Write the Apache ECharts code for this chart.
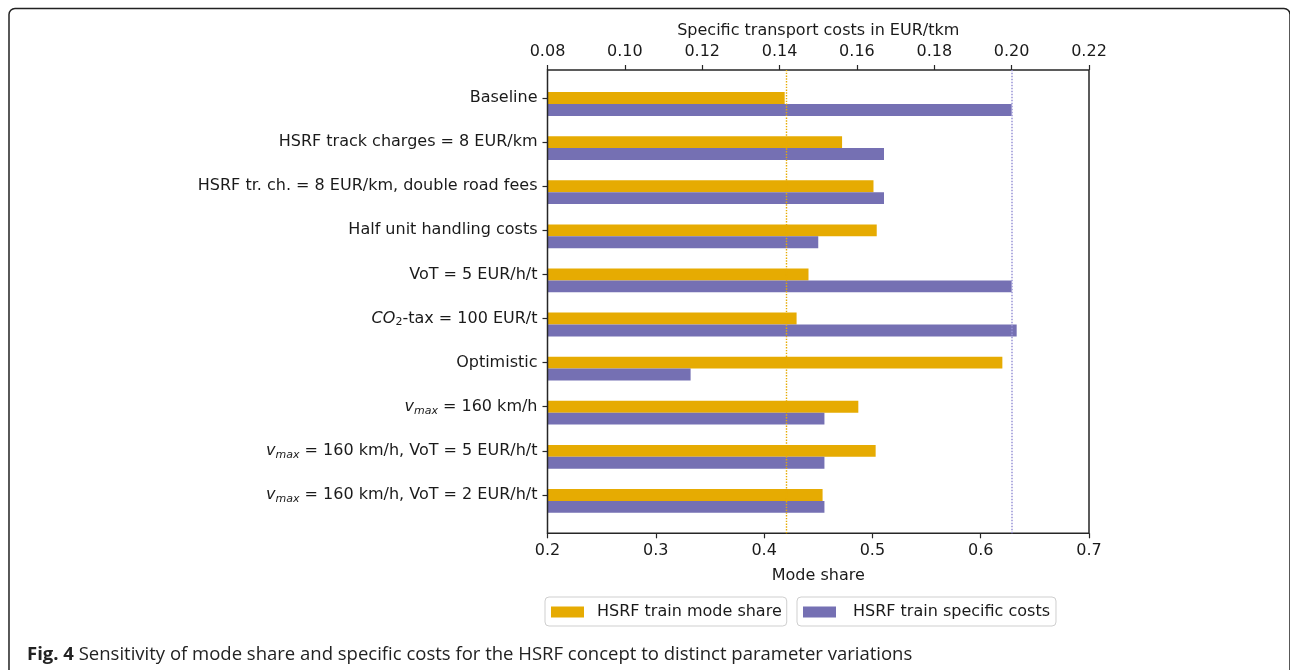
<!DOCTYPE html>
<html><head><meta charset="utf-8">
<script src="https://cdn.jsdelivr.net/npm/echarts@6/dist/echarts.min.js"></script>
<style>html,body{margin:0;padding:0;background:#fff}#c{width:1290px;height:670px}</style>
</head><body><div id="c"></div>
<script>
// ---- data ----
const categories = [
  'Baseline',
  'HSRF track charges = 8 EUR/km',
  'HSRF tr. ch. = 8 EUR/km, double road fees',
  'Half unit handling costs',
  'VoT = 5 EUR/h/t',
  'CO2-tax = 100 EUR/t',
  'Optimistic',
  'vmax = 160 km/h',
  'vmax = 160 km/h, VoT = 5 EUR/h/t',
  'vmax = 160 km/h, VoT = 2 EUR/h/t'
];
const modeShare = [0.419, 0.472, 0.501, 0.504, 0.441, 0.430, 0.620, 0.487, 0.503, 0.454];
const specificCosts = [0.200, 0.167, 0.167, 0.150, 0.200, 0.2013, 0.117, 0.1516, 0.1516, 0.1516];
const modeShareAxis = { min: 0.2, max: 0.7, interval: 0.1 };
const costAxis = { min: 0.08, max: 0.22, interval: 0.02 };
const seriesNames = ['HSRF train mode share', 'HSRF train specific costs'];
const axisTitles = { bottom: 'Mode share', top: 'Specific transport costs in EUR/tkm' };
const caption = { bold: 'Fig. 4', text: 'Sensitivity of mode share and specific costs for the HSRF concept to distinct parameter variations' };

// ---- style ----
const ORANGE = '#e6ab02', PURPLE = '#7570b3', INK = '#1a1a1a';
const FONT = 'DejaVu Sans';
const FS = 16;
const LEFT = 547.5, RIGHT = 1290 - 1089;

function richLabel(s) {
  return s.replace('CO2', '{it|CO}{sub|2}').replace(/vmax/g, '{it|v}{subi|max}');
}

const chart = echarts.init(document.getElementById('c'), null, { renderer: 'canvas' });
const hiddenX = (ax, gi) => ({ type: 'value', gridIndex: gi, min: ax.min, max: ax.max, show: false });

chart.setOption({
  animation: false,
  backgroundColor: '#fff',
  textStyle: { fontFamily: FONT },
  graphic: [{
    type: 'rect', silent: true, z: 100,
    shape: { x: 9, y: 8.5, width: 1281, height: 720, r: 6 },
    style: { fill: 'none', stroke: '#222', lineWidth: 1.5 }
  }],
  title: {
    text: '{b|' + caption.bold + '} ' + caption.text,
    left: 22, top: 640,
    textStyle: {
      fontFamily: 'Open Sans', fontSize: 18.5, fontWeight: 'normal', color: '#222',
      rich: { b: { fontFamily: 'Open Sans', fontSize: 18.5, fontWeight: 'bold', color: '#222' } }
    }
  },
  legend: [
    {
      data: [seriesNames[0]], left: 545, top: 597,
      orient: 'horizontal', icon: 'rect', itemWidth: 33, itemHeight: 11,
      padding: [7, 5, 6, 6], borderColor: '#cfcfcf', borderWidth: 1, borderRadius: 4,
      selectedMode: false,
      textStyle: { fontFamily: FONT, fontSize: FS, color: INK, padding: [0, 0, 0, 8] }
    },
    {
      data: [seriesNames[1]], left: 797, top: 597,
      orient: 'horizontal', icon: 'rect', itemWidth: 33, itemHeight: 11,
      padding: [7, 6, 6, 6], borderColor: '#cfcfcf', borderWidth: 1, borderRadius: 4,
      selectedMode: false,
      textStyle: { fontFamily: FONT, fontSize: FS, color: INK, padding: [0, 0, 0, 12] }
    }
  ],
  grid: [
    { left: LEFT, right: RIGHT, top: 70, height: 463.3, show: true, borderColor: '#262626', borderWidth: 1.5, backgroundColor: 'transparent', z: 3 },
    { left: LEFT, right: RIGHT, top: 81.95, height: 441 },
    { left: LEFT, right: RIGHT, top: 75.95, height: 441 }
  ],
  xAxis: [
    {
      type: 'value', gridIndex: 0, position: 'bottom',
      min: modeShareAxis.min, max: modeShareAxis.max, interval: modeShareAxis.interval,
      axisLine: { show: false },
      axisTick: { show: true, length: 5, lineStyle: { color: '#262626', width: 1.2 } },
      axisLabel: { margin: 10, fontSize: FS, color: INK, fontFamily: FONT, formatter: v => v.toFixed(1) },
      splitLine: { show: false },
      name: axisTitles.bottom, nameLocation: 'middle', nameGap: 35,
      nameTextStyle: { fontSize: FS, color: INK, fontFamily: FONT }
    },
    {
      type: 'value', gridIndex: 0, position: 'top',
      min: costAxis.min, max: costAxis.max, interval: costAxis.interval,
      axisLine: { show: false },
      axisTick: { show: true, length: 5, lineStyle: { color: '#262626', width: 1.2 } },
      axisLabel: { margin: 10, fontSize: FS, color: INK, fontFamily: FONT, formatter: v => v.toFixed(2) },
      splitLine: { show: false },
      name: axisTitles.top, nameLocation: 'middle', nameGap: 29,
      nameTextStyle: { fontSize: FS, color: INK, fontFamily: FONT }
    },
    hiddenX(modeShareAxis, 1),
    hiddenX(costAxis, 1),
    hiddenX(modeShareAxis, 2)
  ],
  yAxis: [
    { type: 'value', gridIndex: 0, min: 0, max: 1, show: false },
    {
      type: 'category', gridIndex: 1, inverse: true, data: categories,
      axisLine: { show: false }, axisTick: { show: false }, axisLabel: { show: false }, splitLine: { show: false }
    },
    {
      type: 'category', gridIndex: 2, inverse: true, data: categories,
      axisLine: { show: false },
      axisTick: { show: true, alignWithLabel: true, length: 5, lineStyle: { color: '#262626', width: 1.2 } },
      axisLabel: {
        margin: 10, fontSize: FS, color: INK, fontFamily: FONT,
        formatter: richLabel,
        rich: {
          it: { fontStyle: 'italic', fontSize: FS, color: INK, fontFamily: FONT },
          sub: { fontSize: 11, color: INK, fontFamily: FONT, padding: [8, 0, 0, 0] },
          subi: { fontStyle: 'italic', fontSize: 11, color: INK, fontFamily: FONT, padding: [8, 0, 0, 0] }
        }
      },
      splitLine: { show: false }
    }
  ],
  series: [
    {
      name: seriesNames[0], type: 'bar', xAxisIndex: 2, yAxisIndex: 1,
      data: modeShare, barWidth: 11.9, barGap: '0%',
      itemStyle: { color: ORANGE }
    },
    {
      name: seriesNames[1], type: 'bar', xAxisIndex: 3, yAxisIndex: 1,
      data: specificCosts, barWidth: 11.9, barGap: '0%',
      itemStyle: { color: PURPLE }
    },
    {
      type: 'scatter', xAxisIndex: 0, yAxisIndex: 0, data: [], symbolSize: 0, silent: true,
      markLine: {
        silent: true, symbol: 'none', label: { show: false },
        lineStyle: { type: 'dotted', color: ORANGE, width: 1.4 },
        data: [{ xAxis: modeShare[0] }]
      }
    },
    {
      type: 'scatter', xAxisIndex: 1, yAxisIndex: 0, data: [], symbolSize: 0, silent: true,
      markLine: {
        silent: true, symbol: 'none', label: { show: false },
        lineStyle: { type: 'dotted', color: '#9893d6', width: 1.5 },
        data: [{ xAxis: specificCosts[0] }]
      }
    }
  ]
});
</script>
</body></html>
